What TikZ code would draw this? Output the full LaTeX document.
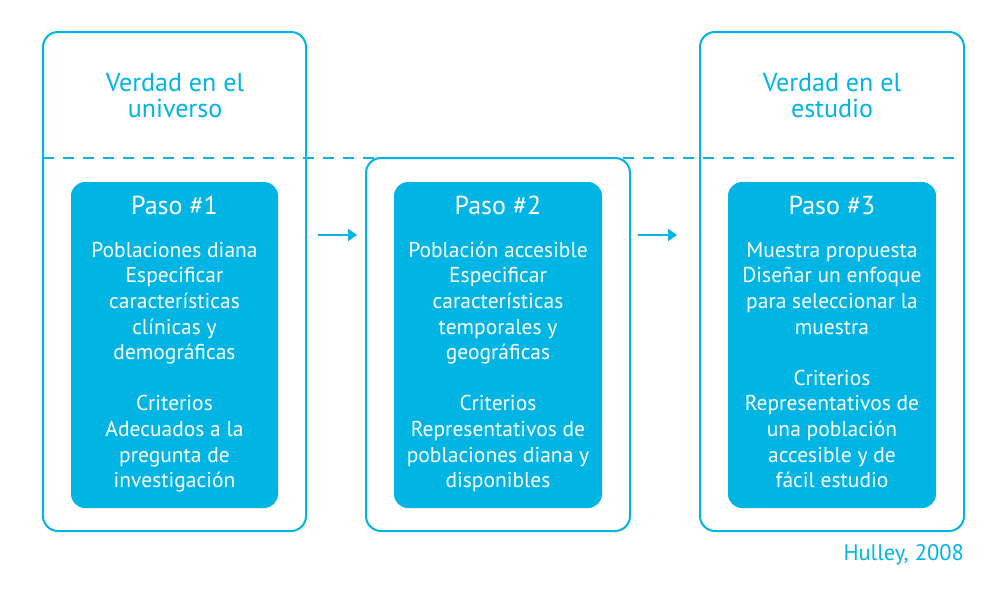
\documentclass[tikz,border=0pt]{standalone}
\usepackage{fontspec}
\setmainfont{PT Sans}
\usetikzlibrary{arrows.meta}
\definecolor{cy}{RGB}{0,180,228}
\begin{document}
\begin{tikzpicture}[x=1pt,y=-1pt,
 outerbox/.style={draw=cy,line width=2pt,rounded corners=15pt,inner sep=0pt,fill=white},
 innerbox/.style={fill=cy,rounded corners=14pt,inner sep=0pt},
 titletxt/.style={text=cy,font=\fontsize{26}{30}\selectfont,anchor=base,inner sep=0pt},
 pasotxt/.style={text=white,font=\fontsize{26}{30}\selectfont,anchor=base,inner sep=0pt},
 bodytxt/.style={text=white,font=\fontsize{21.5}{25}\selectfont,anchor=base,inner sep=0pt},
 conn/.style={draw=cy,line width=2pt,-{Triangle[length=9pt,width=12pt]}},
 dashline/.style={draw=cy,line width=2pt,dash pattern=on 11pt off 9pt},
]
\useasboundingbox (0,0) rectangle (1007,590);
% outer boxes
\node[outerbox,minimum width=263,minimum height=499] (o1) at (174.5,281.5) {};
\node[outerbox,minimum width=264,minimum height=499] (o3) at (832,281.5) {};
\coordinate (dl) at (43,158);
\coordinate (dr) at (964,158);
\draw[dashline] (dl) -- (dr);
\node[outerbox,minimum width=264,minimum height=373] (o2) at (498,344.5) {};
% inner boxes
\node[innerbox,minimum width=207,minimum height=326] (i1) at (174.5,345) {};
\node[innerbox,minimum width=208,minimum height=326] (i2) at (498,345) {};
\node[innerbox,minimum width=208,minimum height=326] (i3) at (832,345) {};
% titles
\node[titletxt] (ta1) at (175,91) {Verdad en el};
\node[titletxt] (ta2) at (175,117) {universo};
\node[titletxt] (tb1) at (832,91) {Verdad en el};
\node[titletxt] (tb2) at (832,117) {estudio};
% paso
\node[pasotxt] (p1) at (174.5,214) {Paso \#1};
\node[pasotxt] (p2) at (498,214) {Paso \#2};
\node[pasotxt] (p3) at (832,214) {Paso \#3};
% body text
\foreach \y/\t [count=\i] in {257.3/Poblaciones diana,282.9/Especificar,308.5/características,334.1/clínicas y,359.7/demográficas,410.9/Criterios,436.5/Adecuados a la,462.1/pregunta de,487.7/investigación}
  \node[bodytxt] (a\i) at (174.5,\y) {\t};
\foreach \y/\t [count=\i] in {257.3/Población accesible,282.9/Especificar,308.5/características,334.1/temporales y,359.7/geográficas,410.9/Criterios,436.5/Representativos de,462.1/poblaciones diana y,487.7/disponibles}
  \node[bodytxt] (b\i) at (498,\y) {\t};
\foreach \y/\t [count=\i] in {257.3/Muestra propuesta,282.9/Diseñar un enfoque,308.5/para seleccionar la,334.1/muestra,385.3/Criterios,410.9/Representativos de,436.5/una población,462.1/accesible y de,487.7/fácil estudio}
  \node[bodytxt] (c\i) at (832,\y) {\t};
% arrows
\coordinate (a1s) at (318,235);
\coordinate (a1e) at (357,235);
\coordinate (a2s) at (638,235);
\coordinate (a2e) at (677,235);
\draw[conn] (a1s) -- (a1e);
\draw[conn] (a2s) -- (a2e);
% source
\node[text=cy,font=\fontsize{22.5}{26}\selectfont,anchor=base east,inner sep=0pt] (src) at (964,560.7) {Hulley, 2008};
\end{tikzpicture}
\end{document}
